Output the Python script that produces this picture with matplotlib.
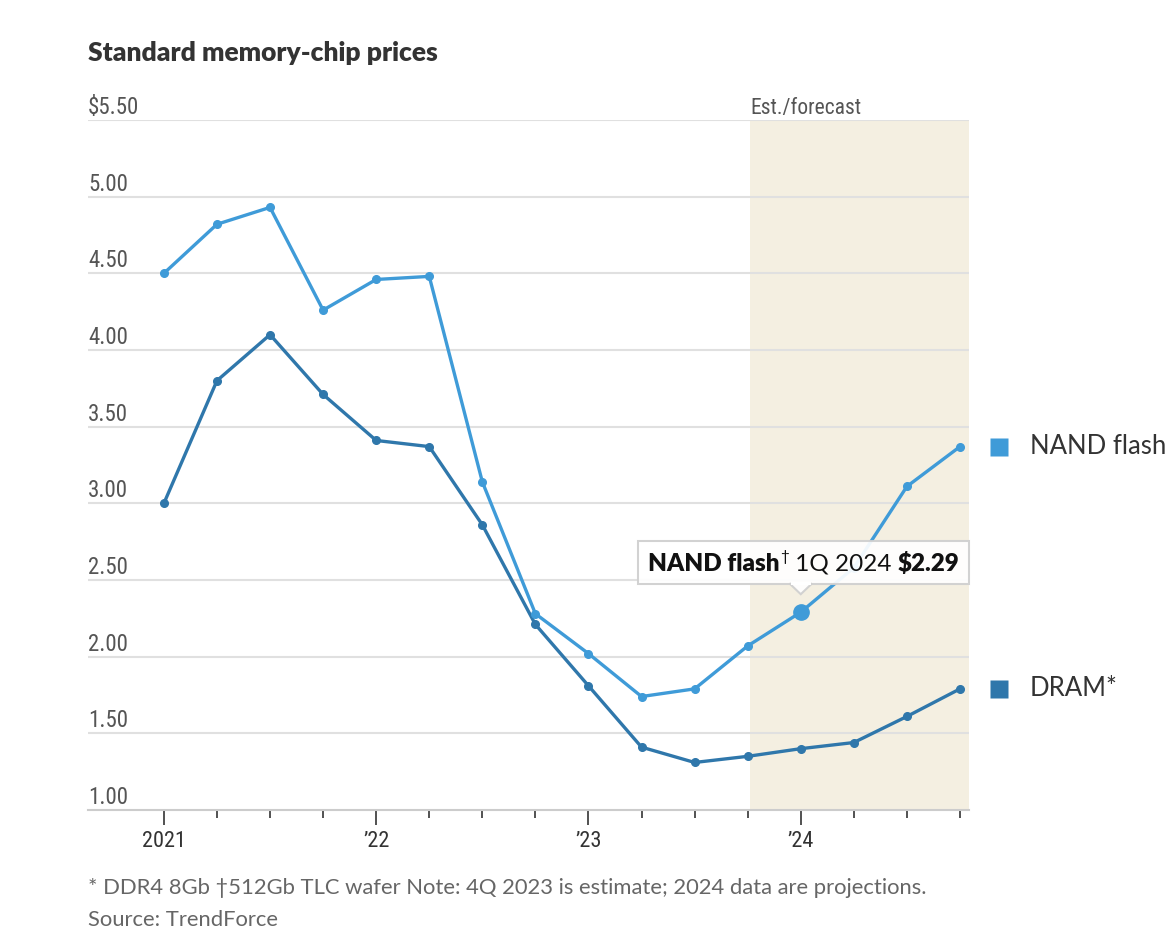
import matplotlib
matplotlib.use("Agg")
import matplotlib.pyplot as plt
from matplotlib import font_manager
from matplotlib.patches import Polygon, Rectangle
import matplotlib.transforms as mtransforms

names = {f.name for f in font_manager.fontManager.ttflist}
def pick(*cands):
    for c in cands:
        if c in names:
            return c
    return "DejaVu Sans"

MAIN = pick("Lato", "Open Sans", "Roboto")
NARROW = pick("Roboto Condensed", "Liberation Sans Narrow", "Lato")

# ---- data ----
quarters = list(range(16))  # 1Q2021 .. 4Q2024
nand = [4.50, 4.82, 4.93, 4.26, 4.46, 4.48, 3.14, 2.28, 2.02, 1.74, 1.79, 2.07, 2.29, 2.58, 3.11, 3.37]
dram = [3.00, 3.80, 4.10, 3.71, 3.41, 3.37, 2.86, 2.21, 1.81, 1.41, 1.31, 1.35, 1.40, 1.44, 1.61, 1.79]
y_ticks = [1.00, 1.50, 2.00, 2.50, 3.00, 3.50, 4.00, 4.50, 5.00, 5.50]
y_labels = ["1.00", "1.50", "2.00", "2.50", "3.00", "3.50", "4.00", "4.50", "5.00", "$5.50"]
year_pos = [0, 4, 8, 12]
year_labels = ["2021", "\u201922", "\u201923", "\u201924"]
forecast_start = 11
highlight_idx = 12

NAND_C = "#3f9bd8"
DRAM_C = "#2f77ab"
SHADE_C = "#f4efe1"
GRID_C = "#e0e0e0"
TXT_C = "#555555"

W, H = 1166, 946
fig = plt.figure(figsize=(W / 100, H / 100), dpi=100)
fig.patch.set_facecolor("white")
L, R, T, B = 88, 969, 120, 810
ax = fig.add_axes([L / W, 1 - B / H, (R - L) / W, (B - T) / H])

ax.set_xlim(-1.43, 15.17)
ax.set_ylim(1.0, 5.5)

# shaded forecast region
ax.axvspan(forecast_start + 0.05, 15.17, color=SHADE_C, zorder=0, lw=0)

# gridlines
for yv in y_ticks[1:]:
    ax.axhline(yv, color=GRID_C, lw=1.5, zorder=1)

off = mtransforms.offset_copy(ax.transData, fig=fig, x=0, y=1, units="dots")
for yv, lab in zip(y_ticks, y_labels):
    ax.text(-1.43, yv, lab, transform=off, ha="left", va="bottom",
            fontsize=16.5, color=TXT_C, family=NARROW)

ax.text(forecast_start + 0.05, 5.5, "Est./forecast", transform=off, ha="left",
        va="bottom", fontsize=15.5, color=TXT_C, family=NARROW)

# lines
ax.plot(quarters, dram, color=DRAM_C, lw=2.4, marker="o", ms=5.5, zorder=3, clip_on=False)
ax.plot(quarters, nand, color=NAND_C, lw=2.4, marker="o", ms=5.5, zorder=4, clip_on=False)

# spines / ticks
for s in ["top", "right", "left"]:
    ax.spines[s].set_visible(False)
ax.spines["bottom"].set_color("#cccccc")
ax.spines["bottom"].set_linewidth(1.5)
ax.set_yticks([])
ax.set_xticks(year_pos)
ax.set_xticklabels(year_labels, fontsize=16, color="#333333", family=NARROW)
ax.set_xticks(quarters, minor=True)
ax.tick_params(axis="x", which="major", length=11, width=1.2, color="#333333", pad=4)
ax.tick_params(axis="x", which="minor", length=6, width=1.2, color="#333333")

# legend labels at line ends
bt = mtransforms.blended_transform_factory(ax.transAxes, ax.transData)
for val, col, lab in [(nand[-1], NAND_C, "NAND flash"), (dram[-1], DRAM_C, "DRAM*")]:
    ax.plot([1.0335], [val], transform=bt, marker="s", ms=13, color=col, clip_on=False, mec="none")
    ax.text(1.069, val, lab, transform=bt, ha="left", va="center", fontsize=18.5,
            color="#333333", family=MAIN)

# title
fig.text(L / W, 1 - 53 / H, "Standard memory-chip prices", ha="left", va="center",
         fontsize=19, fontweight="heavy", color="#333333", family=MAIN)

# footer
fig.text(L / W, 1 - 888 / H, "* DDR4 8Gb \u2020512Gb TLC wafer Note: 4Q 2023 is estimate; 2024 data are projections.",
         ha="left", va="center", fontsize=15.8, color="#666666", family=MAIN)
fig.text(L / W, 1 - 920 / H, "Source: TrendForce", ha="left", va="center",
         fontsize=15.8, color="#666666", family=MAIN)

# highlight point + tooltip
ax.plot([highlight_idx], [nand[highlight_idx]], marker="o", ms=11, color=NAND_C, zorder=6, clip_on=False)

fig.canvas.draw()
renderer = fig.canvas.get_renderer()
px, py = ax.transData.transform((highlight_idx, nand[highlight_idx]))
box_bottom = py + 28
box_h = 43
text_y = box_bottom + box_h / 2 - 1
pieces = [("NAND flash", "heavy", 17.5, 0),
          ("\u2020", "normal", 11, 7),
          (" 1Q 2024 ", "normal", 17.5, 0),
          ("$2.29", "heavy", 17.5, 0)]
texts = []
x = 0
for s, w, fs, dy in pieces:
    t = fig.text(0, 0, s, fontsize=fs, fontweight=w, family=MAIN, color="#111111",
                 ha="left", va="center", transform=None, zorder=11)
    bb = t.get_window_extent(renderer)
    texts.append((t, x, dy))
    x += bb.width
total = x
pad = 10
bx0 = px - total / 2 - pad + 3
bx1 = bx0 + total + 2 * pad
for t, xo, dy in texts:
    t.set_position((bx0 + pad + xo, text_y + dy))

box = Rectangle((bx0, box_bottom), bx1 - bx0, box_h, transform=None, facecolor="white",
                edgecolor="#cfcfcf", lw=1.5, alpha=0.93, zorder=10)
fig.patches.append(box)
tri = Polygon([(px - 11, box_bottom + 0.5), (px + 11, box_bottom + 0.5), (px, box_bottom - 10)],
              closed=True, transform=None, facecolor="white", edgecolor="#cfcfcf", lw=1.5,
              alpha=0.93, zorder=10)
fig.patches.append(tri)
cover = Rectangle((px - 10, box_bottom - 1), 20, 3, transform=None, facecolor="white",
                  edgecolor="none", zorder=10.5)
fig.patches.append(cover)

fig.savefig("out.png", dpi=100)
